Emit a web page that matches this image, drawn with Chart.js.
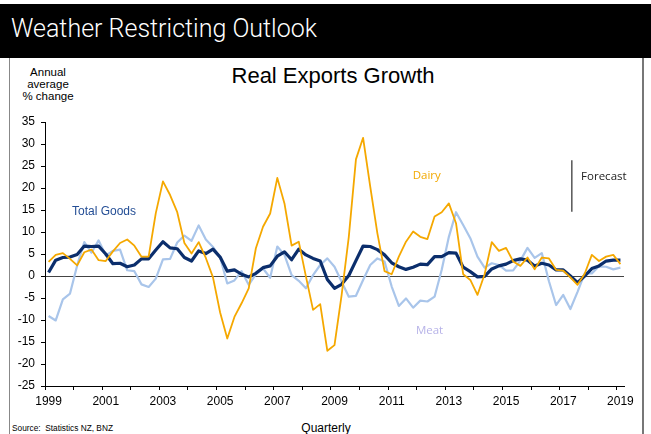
<!DOCTYPE html>
<html>
<head>
<meta charset="utf-8">
<title>Real Exports Growth</title>
<script src="https://cdn.jsdelivr.net/npm/chart.js@4/dist/chart.umd.min.js"></script>
<style>
  html, body { margin: 0; padding: 0; background: #fff; }
  body { width: 651px; height: 434px; position: relative; overflow: hidden; font-family: 'Liberation Sans', Arial, sans-serif; }
  #banner { position: absolute; left: 0; top: 4px; width: 651px; height: 54px; background: #000; }
  #banner span { position: absolute; left: 11px; top: 11px; line-height: 28px; color: #fff;
                 font-family: Roboto, sans-serif; font-weight: 300; font-size: 25px; white-space: nowrap; }
  #frame { position: absolute; left: 9px; top: 58px; width: 632px; bottom: 0; border-left: 1px solid #888; border-right: 2px solid #777; }
  #chartWrap { position: absolute; left: 0; top: 0; width: 651px; height: 434px; }
  .txt { position: absolute; color: #000; white-space: nowrap; }
  #title { left: 0; width: 666px; top: 65px; text-align: center; font-size: 22px; line-height: 22px; }
  #unit { left: 20px; width: 56px; top: 66px; text-align: center; font-size: 11.5px; line-height: 12px; }
  #source { left: 12px; top: 424px; font-size: 8.3px; line-height: 9px; }
  #xname { left: 0; width: 652px; top: 421.7px; text-align: center; font-size: 12px; line-height: 12px; }
</style>
</head>
<body>
<div id="banner"><span>Weather Restricting Outlook</span></div>
<div id="frame"></div>
<div class="txt" id="title">Real Exports Growth</div>
<div class="txt" id="unit">Annual<br>average<br>% change</div>
<div class="txt" id="source">Source:&nbsp; Statistics NZ, BNZ</div>
<div class="txt" id="xname">Quarterly</div>
<div id="chartWrap"><canvas id="exports"></canvas></div>

<script>
// Annual average % change, quarterly, 1999 Q1 - 2019 Q1
const totalGoods = [
    0.8, 3.6, 4.2, 4.3, 4.9, 6.8, 6.7, 6.8, 5.0, 2.8,
    2.9, 2.1, 2.5, 3.9, 3.9, 5.9, 7.8, 6.4, 6.2, 4.2,
    3.4, 5.7, 5.1, 6.1, 4.3, 1.1, 1.4, 0.4, -0.2, 0.6,
    1.9, 2.3, 4.5, 5.5, 3.7, 6.1, 4.8, 4.0, 3.4, -0.8,
    -2.8, -1.9, 0.1, 3.5, 6.8, 6.7, 6.0, 4.8, 3.0, 2.1,
    1.5, 2.0, 2.7, 2.6, 4.4, 4.4, 5.3, 5.2, 2.0, 1.0,
    -0.2, -0.1, 1.6, 2.3, 2.7, 3.5, 3.9, 3.6, 2.3, 2.9,
    2.5, 1.4, 1.4, 0.0, -1.5, 0.0, 1.7, 2.3, 3.4, 3.6,
    3.6
];
const dairy = [
    3.2, 4.8, 5.2, 3.9, 2.4, 5.4, 6.0, 3.6, 3.4, 5.6,
    7.5, 8.3, 6.9, 4.4, 4.4, 14.3, 21.5, 18.4, 14.5, 7.5,
    5.1, 7.7, 4.1, -0.3, -8.3, -14.2, -9.3, -6.2, -2.8, 6.3,
    11.2, 14.2, 22.3, 16.5, 6.9, 7.8, -0.1, -7.7, -6.4, -17.0,
    -15.7, -4.3, 8.9, 26.5, 31.4, 20.3, 9.7, 1.1, 0.4, 4.4,
    7.8, 10.1, 8.9, 8.4, 13.5, 14.5, 16.5, 12.0, 0.4, -0.9,
    -4.3, 0.4, 7.7, 5.7, 6.4, 3.3, 2.3, 4.2, 1.5, 4.2,
    4.0, 1.4, 1.2, -0.3, -2.0, 0.5, 4.8, 3.4, 4.4, 4.8,
    2.7
];
const meat = [
    -9.1, -10.1, -5.3, -4.0, 2.4, 7.7, 5.3, 8.1, 4.7, 5.7,
    6.0, 1.3, 1.1, -1.9, -2.5, -0.6, 3.8, 3.9, 7.6, 9.2,
    8.0, 11.5, 8.3, 6.6, 4.2, -1.7, -1.0, 1.1, -2.0, 0.4,
    1.7, -0.4, 6.7, 4.8, 0.2, -1.1, -2.8, 0.2, 2.5, 4.0,
    2.1, -1.3, -4.7, -4.5, -0.9, 2.5, 4.0, 3.3, -2.4, -6.8,
    -5.1, -7.2, -5.6, -5.8, -4.7, 1.4, 8.9, 14.5, 11.6, 8.6,
    4.4, 1.9, 2.9, 2.5, 1.2, 1.3, 3.5, 6.4, 4.1, 5.2,
    -1.2, -6.6, -4.3, -7.5, -3.6, 0.6, 0.6, 2.2, 2.1, 1.5,
    1.9
];

// categories: one per quarter, series ends at 2019 Q1
const quarters = [];
for (let y = 1999; y <= 2019; y++) {
    for (let q = 1; q <= 4; q++) quarters.push(y + ' Q' + q);
}
quarters.length = totalGoods.length;

const yearLabels = ['1999', '2001', '2003', '2005', '2007', '2009', '2011', '2013', '2015', '2017', '2019'];

// series names written inside the plot (x = quarter index, y = % value)
const seriesNotes = [
    { text: 'Total Goods', x: 7.75, y: 14.6, color: '#244e95', font: '12px "Liberation Sans", Arial, sans-serif', align: 'center' },
    { text: 'Dairy', x: 52.9, y: 22.9, color: '#f2a900', font: '11.5px "Open Sans", sans-serif', align: 'center' },
    { text: 'Meat', x: 53.3, y: -12.5, color: '#b7b3e8', font: '11.5px "Open Sans", sans-serif', align: 'center' },
    { text: 'Forecast', x: 74.5, y: 22.6, color: '#222', font: '11.5px "Open Sans", sans-serif', align: 'left' }
];
const forecastMark = { x: 73.2, from: 26.3, to: 14.6 };

const notesPlugin = {
    id: 'notes',
    afterDatasetsDraw(chart) {
        const { ctx, scales: { x, y } } = chart;
        ctx.save();
        // forecast divider
        ctx.strokeStyle = '#555';
        ctx.lineWidth = 1.5;
        ctx.beginPath();
        const fx = x.getPixelForValue(forecastMark.x);
        ctx.moveTo(fx, y.getPixelForValue(forecastMark.from));
        ctx.lineTo(fx, y.getPixelForValue(forecastMark.to));
        ctx.stroke();
        ctx.textBaseline = 'middle';
        seriesNotes.forEach(n => {
            ctx.font = n.font;
            ctx.fillStyle = n.color;
            ctx.textAlign = n.align;
            ctx.fillText(n.text, x.getPixelForValue(n.x), y.getPixelForValue(n.y));
        });
        ctx.restore();
    }
};

const tickFont = { family: '"Liberation Sans", Arial, sans-serif', size: 12 };

new Chart(document.getElementById('exports'), {
    type: 'line',
    data: {
        labels: quarters,
        datasets: [
            { label: 'Dairy', data: dairy, borderColor: '#f5a800', borderWidth: 1.8 },
            { label: 'Total Goods', data: totalGoods, borderColor: '#0b2e6c', borderWidth: 3.2 },
            { label: 'Meat', data: meat, borderColor: '#a9c5ea', borderWidth: 2.2 }
        ]
    },
    options: {
        responsive: true,
        maintainAspectRatio: false,
        animation: false,
        events: [],
        layout: { padding: { left: 0, top: 122, right: 27, bottom: 18 } },
        elements: {
            point: { radius: 0 },
            line: { tension: 0, borderJoinStyle: 'round', fill: false }
        },
        plugins: { legend: { display: false }, tooltip: { enabled: false } },
        scales: {
            x: {
                type: 'category',
                offset: true,
                afterFit: s => { s.height = 30; },
                border: { display: true, color: '#000', width: 1 },
                grid: {
                    offset: true,
                    drawOnChartArea: false,
                    tickLength: 4,
                    tickColor: c => (c.index !== undefined && c.index % 4 === 0) ? '#000' : 'rgba(0,0,0,0)'
                },
                ticks: {
                    autoSkip: false,
                    maxRotation: 0,
                    padding: 4,
                    color: '#000',
                    font: tickFont,
                    callback: (v, i) => {
                        const [yr, q] = quarters[i].split(' ');
                        return (q === 'Q1' && yearLabels.includes(yr)) ? yr : '';
                    }
                }
            },
            y: {
                min: -25,
                max: 35,
                afterFit: s => { s.width = 45; },
                border: { display: true, color: '#000', width: 1 },
                grid: {
                    tickLength: 4,
                    tickColor: '#000',
                    color: c => (c.tick && c.tick.value === 0) ? '#444' : 'rgba(0,0,0,0)'
                },
                ticks: { stepSize: 5, padding: 6, color: '#000', font: tickFont }
            }
        }
    },
    plugins: [notesPlugin]
});
</script>
</body>
</html>
